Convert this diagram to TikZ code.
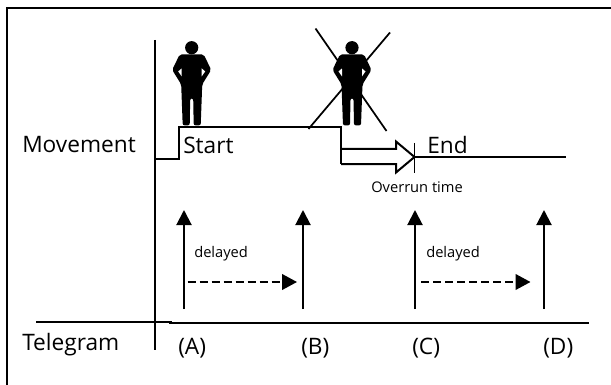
\documentclass[tikz,border=0pt]{standalone}
\usepackage{fontspec}
\setmainfont{Open Sans}
\usetikzlibrary{arrows.meta}

\tikzset{
  person/.pic={
    \fill (0,-6.7) circle (6.6);
    \fill[rounded corners=1.5] (-12,0) -- (12,0) -- (19.5,15.5) -- (10.5,30) -- (10,44)
      -- (9,71) -- (2,71) -- (1.5,44) -- (-1.5,44) -- (-2,71) -- (-9,71)
      -- (-10,44) -- (-10.5,30) -- (-19.5,15.5) -- cycle;
    \fill[white] (10,14) -- (13.5,17) -- (10,22) -- cycle;
    \fill[white] (-10,14) -- (-13.5,17) -- (-10,22) -- cycle;
  },
  axisline/.style={line width=1.5pt},
  pulse/.style={line width=1.5pt,-{Triangle[length=11.25pt,width=11.25pt]}},
  wait/.style={line width=1.5pt,dash pattern=on 6pt off 3pt,-{Triangle[length=11.25pt,width=11.75pt]}},
  biglabel/.style={font=\fontsize{17}{20}\selectfont,inner sep=0pt,anchor=base west},
  smalllabel/.style={font=\fontsize{11}{13}\selectfont,inner sep=0pt,anchor=base west}
}

\begin{document}
\begin{tikzpicture}[x=0.75pt,y=-0.75pt]
\useasboundingbox (0,0) rectangle (611,385);

% frame
\draw [axisline] (7,385) -- (7,8) -- (611,8);

% axes
\coordinate (axtop) at (155,40);
\coordinate (axbot) at (155,350);
\coordinate (tgl) at (36,322);
\coordinate (tgm) at (172,322);
\coordinate (tgn) at (169,323);
\coordinate (tgr) at (589,323);
\draw [axisline] (axtop) -- (axbot);
\draw [axisline] (tgl) -- (tgm);
\draw [axisline] (tgn) -- (tgr);

\node [biglabel] (movement) at (22,152) {Movement};
\node [biglabel] (telegram) at (22,350) {Telegram};

% persons
\pic at (191.7,54.4) {person};
\pic at (352,54.4) {person};
\coordinate (xa) at (315.5,28.5);
\coordinate (xb) at (386.5,131);
\coordinate (xc) at (390,32.5);
\coordinate (xd) at (308.5,129);
\draw [line width=1.3pt] (xa) -- (xb);
\draw [line width=1.3pt] (xc) -- (xd);

% movement line
\coordinate (ms) at (155,159);
\coordinate (me) at (341,164);
\draw [axisline] (ms) -- (179,159) -- (179,127) -- (341,127) -- (me);

\coordinate (tip) at (414.5,157);
\coordinate (lineend) at (566,157);
\draw [axisline] (341,149) -- (396,149) -- (396,141.5) -- (tip)
  -- (396,172.5) -- (396,164) -- (me);
\draw [line width=1.3pt] (414.5,143) -- (414.5,173);
\draw [axisline] (tip) -- (lineend);

\node [biglabel] (start) at (183,154) {Start};
\node [biglabel] (end) at (427,154) {End};
\node [smalllabel] (overrun) at (371,192.5) {Overrun time};

% telegrams
\foreach \n/\x/\lx/\t in {a/184/178/A,b/303/301/B,c/415/412/C,d/544/543/D}{
  \coordinate (\n bot) at (\x,309);
  \coordinate (\n top) at (\x,210);
  \draw [pulse] (\n bot) -- (\n top);
  \node [biglabel] (\n lab) at (\lx,354) {(\t)};
}

\coordinate (da) at (187.5,282);
\coordinate (db) at (297,282);
\coordinate (dc) at (421,282);
\coordinate (dd) at (530.5,282);
\draw [wait] (da) -- (db);
\draw [wait] (dc) -- (dd);
\node [smalllabel] (delayone) at (194,257) {delayed};
\node [smalllabel] (delaytwo) at (426,257) {delayed};
\end{tikzpicture}
\end{document}
